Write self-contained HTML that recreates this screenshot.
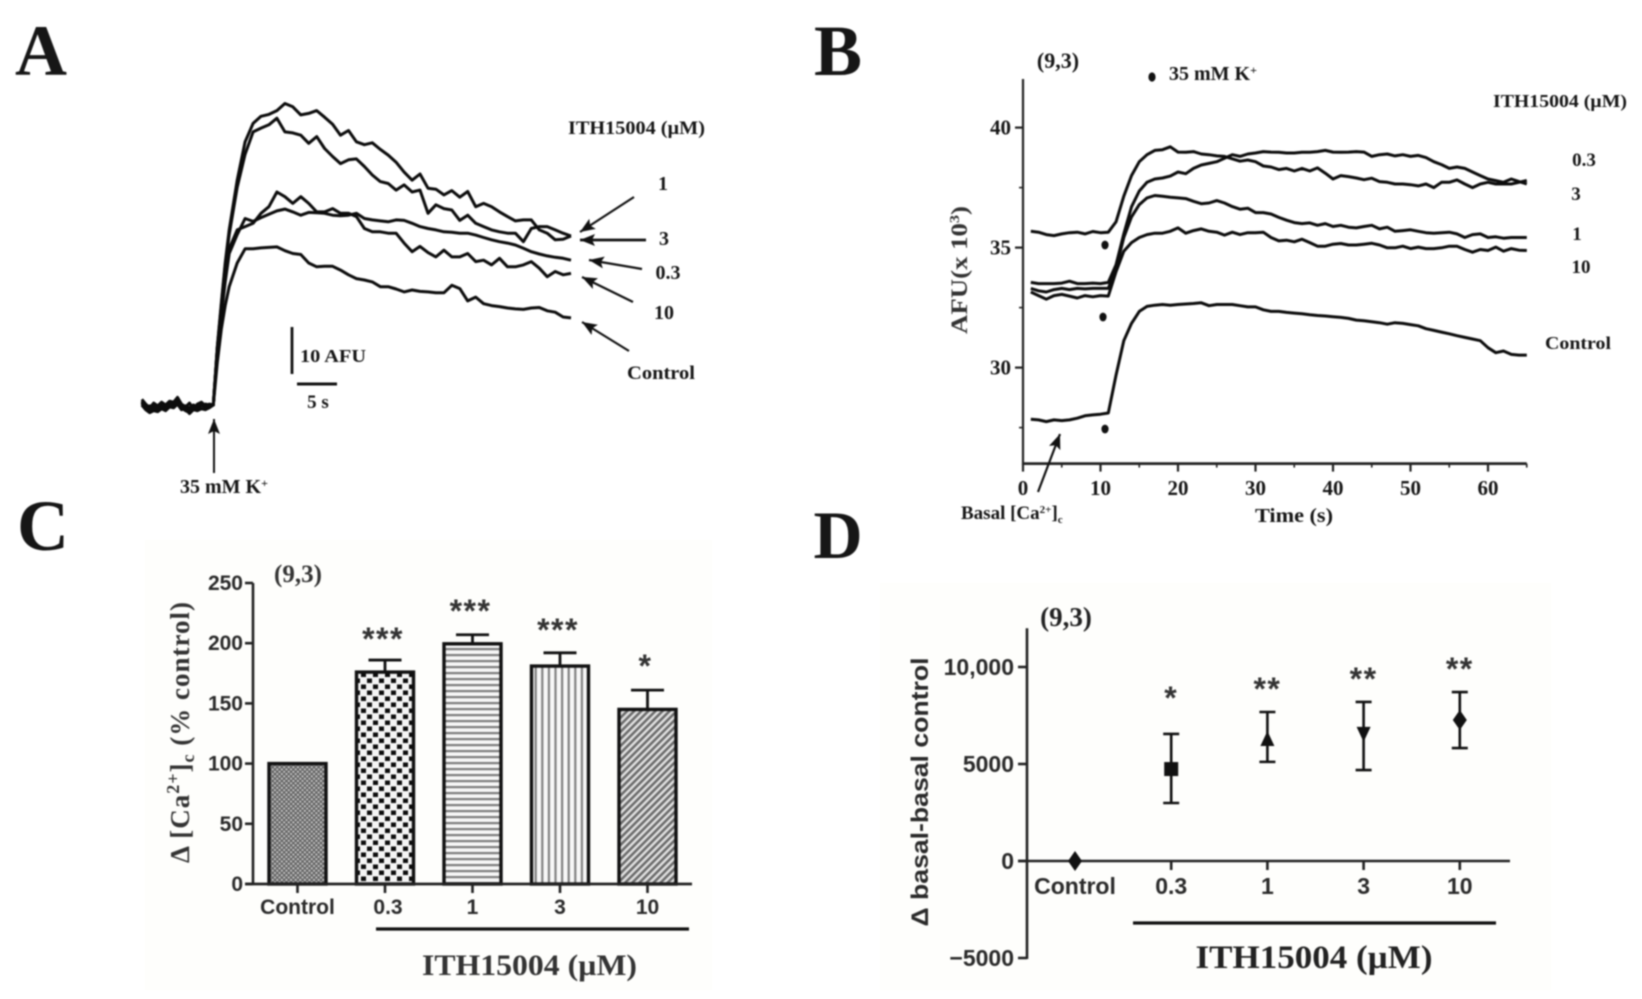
<!DOCTYPE html>
<html lang="en">
<head>
<meta charset="utf-8">
<title>ITH15004 calcium responses</title>
<style>
html,body{margin:0;padding:0;background:#fff;}
svg{display:block;filter:blur(0.8px);}
text{font-family:"Liberation Serif",serif;font-weight:bold;fill:#161616;}
.sans{font-family:"Liberation Sans",sans-serif;fill:#2a2a2a;}
</style>
</head>
<body>
<svg id="fig" xmlns="http://www.w3.org/2000/svg" width="1642" height="999" viewBox="0 0 1642 999">
<defs>
<pattern id="p-control" width="4.6" height="4.6" patternUnits="userSpaceOnUse">
<rect width="4.6" height="4.6" fill="#666"/>
<rect x="0.4" y="0.4" width="1.7" height="1.7" fill="#ddd"/>
<rect x="2.7" y="2.7" width="1.7" height="1.7" fill="#ddd"/>
</pattern>
<pattern id="p-03" width="12" height="12" patternUnits="userSpaceOnUse">
<rect width="12" height="12" fill="#f4f4f4"/>
<rect x="1" y="0.5" width="5" height="4.5" fill="#0c0c0c"/>
<rect x="7" y="6.5" width="5" height="4.5" fill="#0c0c0c"/>
</pattern>
<pattern id="p-1" width="6" height="6" patternUnits="userSpaceOnUse">
<rect width="6" height="6" fill="#f6f6f6"/>
<rect y="0" width="6" height="2.2" fill="#7c7c7c"/>
</pattern>
<pattern id="p-3" width="6.6" height="6" patternUnits="userSpaceOnUse">
<rect width="6.6" height="6" fill="#f8f8f8"/>
<rect x="0" width="2.2" height="6" fill="#808080"/>
</pattern>
<pattern id="p-10" width="5" height="5" patternUnits="userSpaceOnUse" patternTransform="rotate(45)">
<rect width="5" height="5" fill="#e0e0e0"/>
<rect width="2.5" height="5" fill="#6a6a6a"/>
</pattern>
<marker id="ah" markerWidth="16" markerHeight="12" refX="15" refY="6" orient="auto" markerUnits="userSpaceOnUse">
<path d="M0,0 L15,6 L0,12 L3,6 Z" fill="#111"/>
</marker>
</defs>

<rect x="0" y="0" width="1642" height="999" fill="#ffffff"/>
<rect x="145" y="540" width="567" height="450" fill="#fefefc"/>
<rect x="880" y="583" width="671" height="407" fill="#fefefc"/>

<text x="41" y="75" font-size="72" text-anchor="middle">A</text>
<text x="838" y="75" font-size="72" text-anchor="middle">B</text>
<text x="43" y="550" font-size="72" text-anchor="middle">C</text>
<text x="838" y="558" font-size="68" text-anchor="middle">D</text>

<g id="panelA">
<g id="aTraces"></g>
<text x="568" y="134" font-size="19" textLength="137" lengthAdjust="spacingAndGlyphs">ITH15004 (µM)</text>
<text x="663" y="190" font-size="20" text-anchor="middle">1</text>
<text x="664" y="245" font-size="20" text-anchor="middle">3</text>
<text x="668" y="279" font-size="20" text-anchor="middle">0.3</text>
<text x="664" y="319" font-size="20" text-anchor="middle">10</text>
<text x="661" y="379" font-size="19" text-anchor="middle" textLength="68" lengthAdjust="spacingAndGlyphs">Control</text>
<line x1="634" y1="197" x2="580" y2="232" stroke="#111" stroke-width="2.2" marker-end="url(#ah)"/>
<line x1="646" y1="240" x2="580" y2="240" stroke="#111" stroke-width="2.8" marker-end="url(#ah)"/>
<line x1="642" y1="269" x2="589" y2="260" stroke="#111" stroke-width="2.2" marker-end="url(#ah)"/>
<line x1="633" y1="302" x2="582" y2="277" stroke="#111" stroke-width="2.2" marker-end="url(#ah)"/>
<line x1="629" y1="351" x2="582" y2="322" stroke="#111" stroke-width="2.2" marker-end="url(#ah)"/>
<line x1="292" y1="327" x2="292" y2="374" stroke="#111" stroke-width="2.8"/>
<line x1="297" y1="384" x2="337" y2="384" stroke="#111" stroke-width="3"/>
<text x="300" y="362" font-size="18" textLength="66" lengthAdjust="spacingAndGlyphs">10 AFU</text>
<text x="318" y="408" font-size="19" text-anchor="middle">5 s</text>
<line x1="214" y1="473" x2="214" y2="419" stroke="#111" stroke-width="2" marker-end="url(#ah)"/>
<text x="180" y="493" font-size="20">35 mM K<tspan dy="-6" font-size="12">+</tspan></text>
</g>

<g id="panelB">
<g id="bAxes"></g>
<g id="bTraces"></g>
<text x="1058" y="68" font-size="22" text-anchor="middle">(9,3)</text>
<ellipse cx="1152" cy="77" rx="3.6" ry="4.6" fill="#111"/>
<text x="1169" y="80" font-size="20">35 mM K<tspan dy="-6" font-size="12">+</tspan></text>
<text x="1493" y="107" font-size="18" textLength="134" lengthAdjust="spacingAndGlyphs">ITH15004 (µM)</text>
<text x="1584" y="166" font-size="19" text-anchor="middle">0.3</text>
<text x="1576" y="200" font-size="19" text-anchor="middle">3</text>
<text x="1577" y="240" font-size="19" text-anchor="middle">1</text>
<text x="1581" y="273" font-size="19" text-anchor="middle">10</text>
<text x="1578" y="349" font-size="18" text-anchor="middle" textLength="66" lengthAdjust="spacingAndGlyphs">Control</text>
<ellipse cx="1105" cy="245" rx="3.6" ry="4.4" fill="#111"/>
<ellipse cx="1103" cy="317" rx="3.6" ry="4.4" fill="#111"/>
<ellipse cx="1105" cy="429" rx="3.6" ry="4.4" fill="#111"/>
<text transform="translate(967,270) rotate(-90)" font-size="23" text-anchor="middle" textLength="128" lengthAdjust="spacingAndGlyphs" style="fill:#333">AFU(x 10<tspan dy="-8" font-size="14">3</tspan><tspan dy="8">)</tspan></text>
<text x="1294" y="522" font-size="20" text-anchor="middle" textLength="78" lengthAdjust="spacingAndGlyphs">Time (s)</text>
<text x="961" y="519" font-size="19">Basal [Ca<tspan dy="-6" font-size="11">2+</tspan><tspan dy="6">]</tspan><tspan dy="4" font-size="11">c</tspan></text>
<line x1="1038" y1="492" x2="1060" y2="434" stroke="#111" stroke-width="2.2" marker-end="url(#ah)"/>
</g>

<g id="panelC">
<g id="cMarks"></g>
<g id="cAxes"></g>
<text x="298" y="582" font-size="25" text-anchor="middle" style="fill:#333">(9,3)</text>
<text transform="translate(189,732) rotate(-90)" font-size="27" letter-spacing="1" text-anchor="middle" style="fill:#333">Δ [Ca<tspan dy="-10" font-size="18">2+</tspan><tspan dy="10">]</tspan><tspan dy="5" font-size="18">c</tspan><tspan dy="-5"> (% control)</tspan></text>
<line x1="376" y1="929" x2="689" y2="929" stroke="#111" stroke-width="3.2"/>
<text x="529.5" y="975" font-size="30" text-anchor="middle" textLength="215" lengthAdjust="spacingAndGlyphs" style="fill:#333">ITH15004 (µM)</text>
</g>

<g id="panelD">
<g id="dAxes"></g>
<g id="dMarks"></g>
<text x="1066" y="626" font-size="27" text-anchor="middle" style="fill:#222">(9,3)</text>
<text class="sans" transform="translate(928,792) rotate(-90)" font-size="24" text-anchor="middle" textLength="269" lengthAdjust="spacingAndGlyphs">Δ basal-basal control</text>
<line x1="1133" y1="923" x2="1496" y2="923" stroke="#111" stroke-width="3.2"/>
<text x="1314" y="968" font-size="33" text-anchor="middle" textLength="237" lengthAdjust="spacingAndGlyphs" style="fill:#222">ITH15004 (µM)</text>
</g>
</svg>

<script>
/* ---------- Panel A data: seconds from stimulus, AFU above baseline ---------- */
var aBaseTime = [-9,-8.5,-8,-7.5,-7,-6.5,-6,-5.5,-5,-4.5,-4,-3.5,-3,-2.5,-2,-1.5,-1,-0.5];
var aRespTime = [0,0.5,1,1.5,2,3,4,5,6,7,8,9,10,11,12,13,14,15,16,17,18,19,20,21,22,23,24,25,26,27,28,29,30,31,32,33,34,35,36,37,38,39,40,41,42,43,44,45];

var aBase1 = [1.2,0.2,-0.6,0.4,-0.2,0.6,0,0.8,0.6,1.6,0.2,-0.4,0.4,-0.8,0.2,0.6,-0.2,0.2];
var aBase3 = [0.4,-0.8,-1.4,-0.6,-1,-0.4,-0.8,0,-0.2,0.8,-0.6,-1.2,-1.6,-0.6,-0.8,0,-0.6,-0.2];
var aBase03 = [0.8,-0.4,-0.2,-1,-0.6,0,-0.6,0.4,0.2,1,-0.2,-0.2,-0.6,0,-0.4,-0.2,0.2,0];
var aBase10 = [0,-1,-1.6,-1.2,-1.4,-0.8,-1.2,-0.4,-0.6,0.2,-1,-0.8,-1.8,-1,-1.2,-0.8,-1,-0.6];
var aBaseControl = [0.6,-0.2,-1,-0.2,-0.8,0.2,-0.4,0.4,0,1.2,-0.4,-0.6,-1,-0.2,-0.6,0,-0.4,0];

var aDose1 = [0,12.3,21.5,30,37,47.5,55.6,59.5,61,61.4,62.2,63.7,63,61.3,61.6,62.2,60.8,59.3,57,58,55.6,55,55.4,54,52.8,51.3,49.2,47.5,48.8,45.8,45.6,44.4,45.3,43.9,45.1,41.9,42.6,41.9,40.8,39.8,38.9,39.1,39.1,37,36.3,34.9,35,35.7];
var aDose3 = [0,12,21,29.5,36,46,53,57.7,58.5,59.2,60.6,57.7,57.5,57,55.3,56.7,54.2,52.5,51,51.8,52,50.4,48.6,47.2,46.8,45.4,46.5,45,45.4,40.5,42.3,41.5,41.2,39,40.1,38.4,37.7,37,36.6,36.3,36.3,34.5,37.3,37.7,37.7,37,36.3,35.7];
var aDose03 = [0,11,19,26,32,36,39.4,38.8,39.6,40.3,41,41.4,40.8,40.1,40.7,40.6,40.5,40.1,40,40.1,40.5,39.4,39.1,38.9,38.7,39.1,39,38.4,37.7,37.3,37,36.6,36.5,36.3,36.3,35.9,35.4,34.9,34.5,34.2,33.8,33.1,32.4,31.9,31.5,31.2,31,30.6];
var aDose10 = [0,12,20,27,33,37,37.7,38.4,40.5,41.9,45,44,42.6,44,42.6,40.8,40.8,41.5,40.5,40.5,39.8,37.3,36.6,36.6,36.3,36.3,34.2,32.4,33.5,32.2,31.3,32.7,31.3,31.3,32,30.3,30.6,29.6,31,29.2,29.2,29.6,30.3,28.9,27.1,28.2,27.5,27.8];
var aControl = [0,9,16,21,25,30,33,33,33.2,33.3,33.4,32.6,32,31.8,30,29.2,29.3,29.3,28.5,27.5,26.7,26.4,26,25,25,24.5,23.9,24.3,24,23.9,23.7,23.7,25.3,24.6,22,22.8,21.4,21,20.8,20.5,20.3,20.2,20.5,20.6,19.9,19.6,18.6,18.4];

/* ---------- Panel B data: seconds, AFU x 10^3 ---------- */
var bTime = [1,2,3,4,5,6,7,8,9,10,11,12,13,14,15,16,17,18,19,20,21,22,23,24,25,26,27,28,29,30,31,32,33,34,35,36,37,38,39,40,41,42,43,44,45,46,47,48,49,50,51,52,53,54,55,56,57,58,59,60,61,62,63,64,65];
var bDose03 = [35.68,35.64,35.54,35.5,35.57,35.62,35.64,35.57,35.67,35.62,35.64,36.07,37.14,38,38.58,38.87,39.05,39.08,39.2,38.98,38.97,39,38.9,38.87,38.82,38.8,38.7,38.6,38.65,38.58,38.4,38.36,38.25,38.3,38.19,38.3,38.19,38.32,38.1,37.86,38,37.96,37.9,37.83,37.89,37.75,37.72,37.65,37.65,37.62,37.57,37.65,37.5,37.72,37.72,37.82,37.65,37.5,37.65,37.72,37.65,37.65,37.65,37.72,37.8];
var bDose3 = [33.55,33.5,33.5,33.5,33.52,33.6,33.5,33.5,33.52,33.5,33.55,34.28,35.57,36.7,37.36,37.72,37.86,37.9,37.98,38.15,38.08,38.3,38.44,38.51,38.58,38.72,38.87,38.8,38.9,38.94,39,38.98,38.97,38.94,38.94,38.97,38.97,39,39.05,38.98,38.97,38.98,39,38.98,38.8,38.87,38.9,38.82,38.87,38.8,38.84,38.75,38.58,38.46,38.3,38.36,38.3,38.15,38,37.86,37.79,37.72,37.86,37.75,37.65];
var bDose1 = [33.3,33.2,33.15,33.25,33.3,33.25,33.3,33.28,33.3,33.3,33.3,34.13,35.42,36.28,36.79,37.07,37.17,37.14,37.1,37.07,37.04,36.93,36.83,36.86,36.96,36.86,36.71,36.6,36.64,36.46,36.46,36.4,36.26,36.14,36.04,36,36.03,35.93,36,35.88,35.93,35.85,35.82,35.88,35.93,35.78,35.85,35.68,35.71,35.74,35.68,35.62,35.6,35.62,35.64,35.57,35.42,35.54,35.57,35.42,35.45,35.39,35.42,35.42,35.42];
var bDose10 = [33.15,33,32.85,33,33.05,32.98,32.9,33,32.95,33,32.98,33.99,34.85,35.21,35.42,35.54,35.6,35.6,35.68,35.82,35.6,35.71,35.78,35.68,35.64,35.52,35.64,35.54,35.62,35.62,35.64,35.42,35.28,35.31,35.24,35.35,35.21,35.06,35.06,35.14,35.17,35.11,35.11,35.14,35.18,35.11,34.99,34.99,35.06,34.96,35.02,34.96,34.96,34.99,35.06,35.06,34.92,34.81,34.92,34.88,35.02,34.85,34.96,34.89,34.88];
var bControl = [27.85,27.82,27.75,27.82,27.79,27.82,27.89,27.99,28.03,28.06,28.11,29.68,31.12,31.84,32.34,32.55,32.6,32.63,32.6,32.63,32.65,32.67,32.7,32.58,32.63,32.63,32.63,32.58,32.53,32.53,32.41,32.34,32.34,32.3,32.27,32.24,32.2,32.17,32.15,32.12,32.09,32.05,31.98,31.95,31.91,31.87,31.81,31.87,31.84,31.79,31.74,31.62,31.55,31.48,31.41,31.33,31.26,31.19,31.12,30.83,30.62,30.69,30.55,30.52,30.52];
var bYTicks = [30,35,40];
var bYMinorTicks = [27.5,32.5,37.5];
var bXTicks = [0,10,20,30,40,50,60];
var bXMinorTicks = [5,15,25,35,45,55,65];

/* ---------- Panel C data: percent of control ---------- */
var cCategories = ['Control','0.3','1','3','10'];
var cValues = [100,176,199.5,181,145];
var cErrorTops = [100,186,207,192,161];
var cStars = ['','***','***','***','*'];
var cStarLevels = [0,207.6,230.9,215.1,185.4];
var cYTicks = [0,50,100,150,200,250];

/* ---------- Panel D data: AFU difference ---------- */
var dCategories = ['Control','0.3','1','3','10'];
var dValues = [0,4740,6290,6550,7270];
var dErrorHigh = [0,6550,7680,8200,8710];
var dErrorLow = [0,2990,5110,4690,5820];
var dStars = ['','*','**','**','**'];
var dStarLevels = [0,8660,9120,9640,10150];
var dYTicks = [-5000,0,5000,10000];
var dYTickLabels = ['−5000','0','5000','10,000'];

var NS = 'http://www.w3.org/2000/svg';
function mk(tag, attrs, parent){
  var el = document.createElementNS(NS, tag);
  for (var k in attrs) el.setAttribute(k, attrs[k]);
  parent.appendChild(el);
  return el;
}

/* axis functions */
function xA(t){ return 213.3 + 7.95 * t; }
function yA(v){ return 405 - 4.733 * v; }
function xB(t){ return 1023 + 7.75 * t; }
function yB(v){ return 367.6 - 24 * (v - 30); }
function xC(i){ return 297.5 + 87.5 * i; }
function yC(v){ return 884 - 1.204 * v; }
function xD(i){ return 1075 + 96.2 * i; }
function yD(v){ return 861 - 0.0194 * v; }

function pathOf(ts, vs, fx, fy){
  var d = '';
  for (var i = 0; i < ts.length; i++){
    d += (i ? 'L' : 'M') + fx(ts[i]).toFixed(1) + ',' + fy(vs[i]).toFixed(1);
  }
  return d;
}

/* Panel A traces */
var aG = document.getElementById('aTraces');
var aAllTime = aBaseTime.concat(aRespTime);
[
  [aBaseControl, aControl, 'trace-a-control'],
  [aBase10, aDose10, 'trace-a-10'],
  [aBase03, aDose03, 'trace-a-0-3'],
  [aBase3, aDose3, 'trace-a-3'],
  [aBase1, aDose1, 'trace-a-1']
].forEach(function(s){
  var p = mk('path', {d: pathOf(aAllTime, s[0].concat(s[1]), xA, yA), fill: 'none', stroke: '#0c0c0c', 'stroke-width': 3, 'stroke-linejoin': 'round'}, aG);
  
  
});

/* Panel B axes */
var bAx = document.getElementById('bAxes');
var bYAxis = mk('line', {x1: xB(0), x2: xB(0), y1: 79, y2: yB(26) + 1, stroke: '#222', 'stroke-width': 2.2}, bAx);


var bXAxis = mk('line', {x1: xB(0) - 1, x2: xB(65), y1: yB(26), y2: yB(26), stroke: '#222', 'stroke-width': 2.8}, bAx);


bYTicks.forEach(function(v){
  var t = mk('line', {x1: xB(0) - 8, x2: xB(0), y1: yB(v), y2: yB(v), stroke: '#222', 'stroke-width': 2.2}, bAx);
  
  
  var l = mk('text', {x: xB(0) - 12, y: yB(v) + 7, 'font-size': 21, 'text-anchor': 'end'}, bAx);
  l.textContent = String(v);
  
  
});
bYMinorTicks.forEach(function(v){
  var t = mk('line', {x1: xB(0) - 4, x2: xB(0), y1: yB(v), y2: yB(v), stroke: '#222', 'stroke-width': 1.6}, bAx);
  
  
});
bXTicks.forEach(function(v){
  var t = mk('line', {x1: xB(v), x2: xB(v), y1: yB(26), y2: yB(26) + 8, stroke: '#222', 'stroke-width': 2.2}, bAx);
  
  
  var l = mk('text', {x: xB(v), y: 495, 'font-size': 21, 'text-anchor': 'middle'}, bAx);
  l.textContent = String(v);
  
  
});
bXMinorTicks.forEach(function(v){
  var t = mk('line', {x1: xB(v), x2: xB(v), y1: yB(26), y2: yB(26) + 4, stroke: '#222', 'stroke-width': 1.6}, bAx);
  
  
});

/* Panel B traces */
var bG = document.getElementById('bTraces');
[
  [bControl, 'trace-b-control'],
  [bDose10, 'trace-b-10'],
  [bDose1, 'trace-b-1'],
  [bDose3, 'trace-b-3'],
  [bDose03, 'trace-b-0-3']
].forEach(function(s){
  var p = mk('path', {d: pathOf(bTime, s[0], xB, yB), fill: 'none', stroke: '#0c0c0c', 'stroke-width': 3, 'stroke-linejoin': 'round'}, bG);
  
  
});

/* Panel C bars */
var cG = document.getElementById('cMarks');
var cFills = ['url(#p-control)','url(#p-03)','url(#p-1)','url(#p-3)','url(#p-10)'];
var cW = 57;
cCategories.forEach(function(c, i){
  if (cErrorTops[i] > cValues[i]){
    var stem = mk('line', {x1: xC(i), x2: xC(i), y1: yC(cErrorTops[i]), y2: yC(cValues[i]), stroke: '#111', 'stroke-width': 2.8}, cG);
    
    
    var cap = mk('line', {x1: xC(i) - 16.5, x2: xC(i) + 16.5, y1: yC(cErrorTops[i]), y2: yC(cErrorTops[i]), stroke: '#111', 'stroke-width': 2.8}, cG);
    
    
  }
  var b = mk('rect', {x: xC(i) - cW / 2, y: yC(cValues[i]), width: cW, height: yC(0) - yC(cValues[i]), fill: cFills[i], stroke: '#111', 'stroke-width': 3.4}, cG);
  
  
  if (cStars[i]){
    var s = mk('text', {'class': 'sans', x: xC(i) - 2, y: yC(cStarLevels[i]) + 16, 'font-size': 32, 'text-anchor': 'middle', 'letter-spacing': 1.5, style: 'fill:#333;font-weight:bold'}, cG);
    s.textContent = cStars[i];
    
    
  }
});

/* Panel C axes */
var cAx = document.getElementById('cAxes');
var cYAxis = mk('line', {x1: 253, x2: 253, y1: yC(250), y2: yC(0), stroke: '#222', 'stroke-width': 2.6}, cAx);


var cXAxis = mk('line', {x1: 245, x2: 692, y1: yC(0), y2: yC(0), stroke: '#222', 'stroke-width': 2.8}, cAx);


cYTicks.forEach(function(v){
  var t = mk('line', {x1: 245, x2: 253, y1: yC(v), y2: yC(v), stroke: '#222', 'stroke-width': 2.6}, cAx);
  
  
  var l = mk('text', {'class': 'sans', x: 243, y: yC(v) + 7, 'font-size': 21, 'text-anchor': 'end'}, cAx);
  l.textContent = String(v);
  
  
});
cCategories.forEach(function(c, i){
  var t = mk('line', {x1: xC(i), x2: xC(i), y1: yC(0), y2: yC(0) + 9, stroke: '#222', 'stroke-width': 2.6}, cAx);
  
  
  var l = mk('text', {'class': 'sans', x: xC(i) + (i === 1 ? 3 : 0), y: 914, 'font-size': 21, 'text-anchor': 'middle'}, cAx);
  l.textContent = c;
  
  
});

/* Panel D axes */
var dAx = document.getElementById('dAxes');
var dYAxis = mk('line', {x1: 1027, x2: 1027, y1: yD(12000), y2: yD(-5000) + 1, stroke: '#222', 'stroke-width': 2.6}, dAx);


var dXAxis = mk('line', {x1: 1018, x2: 1510, y1: yD(0), y2: yD(0), stroke: '#222', 'stroke-width': 2.6}, dAx);


dYTicks.forEach(function(v, i){
  var t = mk('line', {x1: 1018, x2: 1027, y1: yD(v), y2: yD(v), stroke: '#222', 'stroke-width': 2.6}, dAx);
  
  
  var l = mk('text', {'class': 'sans', x: 1014, y: yD(v) + 8, 'font-size': 23, 'text-anchor': 'end'}, dAx);
  l.textContent = dYTickLabels[i];
  
  
});

/* Panel D points */
var dG = document.getElementById('dMarks');
var dShapes = ['diamond','square','up','down','diamond'];
function markerPath(kind, x, y){
  var r = 7;
  if (kind === 'square') return 'M' + (x-r) + ',' + (y-r) + 'H' + (x+r) + 'V' + (y+r) + 'H' + (x-r) + 'Z';
  if (kind === 'up') return 'M' + x + ',' + (y-r-1) + 'L' + (x+r) + ',' + (y+r) + 'H' + (x-r) + 'Z';
  if (kind === 'down') return 'M' + x + ',' + (y+r+1) + 'L' + (x+r) + ',' + (y-r) + 'H' + (x-r) + 'Z';
  return 'M' + x + ',' + (y-r-3) + 'L' + (x+r) + ',' + y + 'L' + x + ',' + (y+r+3) + 'L' + (x-r) + ',' + y + 'Z';
}
dCategories.forEach(function(c, i){
  var x = xD(i);
  if (i > 0){
    var t = mk('line', {x1: x, x2: x, y1: yD(0), y2: yD(0) + 9, stroke: '#222', 'stroke-width': 2.6}, dG);
    
    
    var e = mk('line', {x1: x, x2: x, y1: yD(dErrorHigh[i]), y2: yD(dErrorLow[i]), stroke: '#111', 'stroke-width': 2.6}, dG);
    
    
    var c1 = mk('line', {x1: x - 8, x2: x + 8, y1: yD(dErrorHigh[i]), y2: yD(dErrorHigh[i]), stroke: '#111', 'stroke-width': 2.6}, dG);
    
    
    var c2 = mk('line', {x1: x - 8, x2: x + 8, y1: yD(dErrorLow[i]), y2: yD(dErrorLow[i]), stroke: '#111', 'stroke-width': 2.6}, dG);
    
    
    var s = mk('text', {'class': 'sans', x: x, y: yD(dStarLevels[i]) + 16, 'font-size': 32, 'text-anchor': 'middle', 'letter-spacing': 1.5, style: 'fill:#333;font-weight:bold'}, dG);
    s.textContent = dStars[i];
    
    
  }
  var m = mk('path', {d: markerPath(dShapes[i], x, yD(dValues[i])), fill: '#111'}, dG);
  
  
  var l = mk('text', {'class': 'sans', x: x, y: 894, 'font-size': 23, 'text-anchor': 'middle'}, dG);
  l.textContent = c;
  
  
});
</script>
</body>
</html>
